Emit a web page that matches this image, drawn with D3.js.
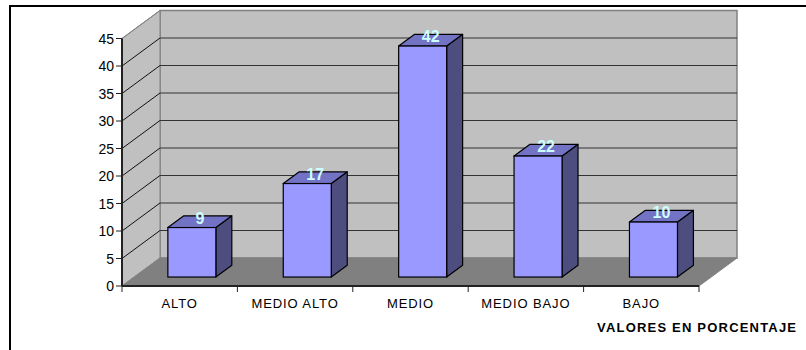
<!DOCTYPE html>
<html>
<head>
<meta charset="utf-8">
<script src="https://cdn.jsdelivr.net/npm/d3@7"></script>
<style>
  body { margin: 0; background: #fff; }
  text { font-family: Arial, 'Liberation Sans', sans-serif; }
</style>
</head>
<body>
<div id="chart"></div>
<script>
const categories = ['ALTO', 'MEDIO ALTO', 'MEDIO', 'MEDIO BAJO', 'BAJO']
const values = [9, 17, 42, 22, 10]
const yTicks = [0, 5, 10, 15, 20, 25, 30, 35, 40, 45]
const axisTitle = 'VALORES EN PORCENTAJE'

const width = 806
const height = 350

// plot front plane and the depth shift to the back wall
const plot = { left: 122, right: 699, top: 38.5, bottom: 286 }
const depth = { dx: 38, dy: -28 }

const svg = d3
  .select('#chart')
  .append('svg')
  .attr('width', width)
  .attr('height', height)

// outer frame (only top and left are inside the picture)
svg.append('rect')
  .attr('x', 10)
  .attr('y', 6)
  .attr('width', 820)
  .attr('height', 360)
  .attr('fill', 'none')
  .attr('stroke', '#000')
  .attr('stroke-width', 2)

const x = d3.scaleBand()
  .domain(categories)
  .range([plot.left, plot.right])

const y = d3.scaleLinear()
  .domain([0, 45])
  .range([plot.bottom, plot.top])

const pts = p => p.map(d => d.join(',')).join(' ')

// back wall
svg.append('polygon')
  .attr('points', pts([
    [plot.left + depth.dx, y(45) + depth.dy],
    [plot.right + depth.dx, y(45) + depth.dy],
    [plot.right + depth.dx, plot.bottom + depth.dy],
    [plot.left + depth.dx, plot.bottom + depth.dy]
  ]))
  .attr('fill', '#c0c0c0')
  .attr('stroke', '#808080')
  .attr('stroke-width', 1.5)

// side wall
svg.append('polygon')
  .attr('points', pts([
    [plot.left, y(45)],
    [plot.left + depth.dx, y(45) + depth.dy],
    [plot.left + depth.dx, plot.bottom + depth.dy],
    [plot.left, plot.bottom]
  ]))
  .attr('fill', '#c0c0c0')
  .attr('stroke', '#808080')
  .attr('stroke-width', 1)

// floor
svg.append('polygon')
  .attr('points', pts([
    [plot.left, plot.bottom],
    [plot.right, plot.bottom],
    [plot.right + depth.dx, plot.bottom + depth.dy],
    [plot.left + depth.dx, plot.bottom + depth.dy]
  ]))
  .attr('fill', '#808080')
  .attr('stroke', '#808080')
  .attr('stroke-width', 1)

// gridlines: back wall + diagonal on side wall
const grid = svg.append('g')
grid.selectAll('.gback')
  .data(yTicks.filter(d => d > 0))
  .enter()
  .append('line')
  .attr('class', 'gback')
  .attr('x1', plot.left + depth.dx)
  .attr('x2', plot.right + depth.dx)
  .attr('y1', d => y(d) + depth.dy)
  .attr('y2', d => y(d) + depth.dy)
  .attr('stroke', d => d === 45 ? '#808080' : '#333')
  .attr('stroke-width', 1)

grid.selectAll('.gside')
  .data(yTicks.filter(d => d > 0))
  .enter()
  .append('line')
  .attr('class', 'gside')
  .attr('x1', plot.left)
  .attr('x2', plot.left + depth.dx)
  .attr('y1', d => y(d))
  .attr('y2', d => y(d) + depth.dy)
  .attr('stroke', d => d === 45 ? '#808080' : '#111')
  .attr('stroke-width', 1)

// bars
const barW = 48
const f0 = 0.32
const f1 = 0.74

const bars = svg.selectAll('.bar')
  .data(categories.map((c, i) => ({ cat: c, value: values[i] })))
  .enter()
  .append('g')
  .attr('class', 'bar')

function barGeom (d) {
  const cx = x(d.cat) + x.bandwidth() / 2 + depth.dx * f0
  const x0 = cx - barW / 2
  const x1 = cx + barW / 2
  const yb = plot.bottom + depth.dy * f0
  const yt = y(d.value) + depth.dy * f0
  const sx = depth.dx * (f1 - f0)
  const sy = depth.dy * (f1 - f0)
  return { x0, x1, yb, yt, sx, sy }
}

bars.append('polygon')
  .attr('points', d => {
    const g = barGeom(d)
    return pts([[g.x1, g.yt], [g.x1 + g.sx, g.yt + g.sy], [g.x1 + g.sx, g.yb + g.sy], [g.x1, g.yb]])
  })
  .attr('fill', '#4d4d80')
  .attr('stroke', '#000')
  .attr('stroke-width', 1.2)
  .attr('stroke-linejoin', 'round')

bars.append('polygon')
  .attr('points', d => {
    const g = barGeom(d)
    return pts([[g.x0, g.yt], [g.x0 + g.sx, g.yt + g.sy], [g.x1 + g.sx, g.yt + g.sy], [g.x1, g.yt]])
  })
  .attr('fill', '#7373c6')
  .attr('stroke', '#000')
  .attr('stroke-width', 1.2)
  .attr('stroke-linejoin', 'round')

bars.append('rect')
  .attr('x', d => barGeom(d).x0)
  .attr('y', d => barGeom(d).yt)
  .attr('width', barW)
  .attr('height', d => barGeom(d).yb - barGeom(d).yt)
  .attr('fill', '#9999ff')
  .attr('stroke', '#000')
  .attr('stroke-width', 1.2)

bars.append('text')
  .attr('x', d => (barGeom(d).x0 + barGeom(d).x1) / 2 + barGeom(d).sx / 2)
  .attr('y', d => barGeom(d).yt - 4)
  .attr('text-anchor', 'middle')
  .attr('font-size', 16)
  .attr('font-weight', 'bold')
  .attr('fill', '#ccffff')
  .text(d => d.value)

// y axis
svg.append('line')
  .attr('x1', plot.left)
  .attr('x2', plot.left)
  .attr('y1', y(45))
  .attr('y2', plot.bottom)
  .attr('stroke', '#222')
  .attr('stroke-width', 2)

svg.selectAll('.ytick')
  .data(yTicks)
  .enter()
  .append('line')
  .attr('x1', plot.left - 6)
  .attr('x2', plot.left)
  .attr('y1', d => y(d))
  .attr('y2', d => y(d))
  .attr('stroke', '#222')
  .attr('stroke-width', 1)

svg.selectAll('.ylabel')
  .data(yTicks)
  .enter()
  .append('text')
  .attr('x', plot.left - 8)
  .attr('y', d => y(d))
  .attr('dy', '0.36em')
  .attr('text-anchor', 'end')
  .attr('font-size', 14)
  .attr('fill', '#000')
  .text(d => d)

// x axis
svg.append('line')
  .attr('x1', plot.left)
  .attr('x2', plot.right)
  .attr('y1', plot.bottom)
  .attr('y2', plot.bottom)
  .attr('stroke', '#222')
  .attr('stroke-width', 2)

svg.selectAll('.xtick')
  .data(categories.concat(['end']))
  .enter()
  .append('line')
  .attr('x1', (d, i) => plot.left + i * x.bandwidth())
  .attr('x2', (d, i) => plot.left + i * x.bandwidth())
  .attr('y1', plot.bottom)
  .attr('y2', plot.bottom + 6)
  .attr('stroke', '#222')
  .attr('stroke-width', 1)

svg.selectAll('.xlabel')
  .data(categories)
  .enter()
  .append('text')
  .attr('x', d => x(d) + x.bandwidth() / 2)
  .attr('y', 308)
  .attr('text-anchor', 'middle')
  .attr('font-size', 13)
  .attr('letter-spacing', 0.9)
  .attr('fill', '#000')
  .text(d => d)

svg.append('text')
  .attr('x', 597)
  .attr('y', 332)
  .attr('font-size', 13)
  .attr('font-weight', 'bold')
  .attr('letter-spacing', 1.2)
  .attr('fill', '#000')
  .text(axisTitle)
</script>
</body>
</html>
